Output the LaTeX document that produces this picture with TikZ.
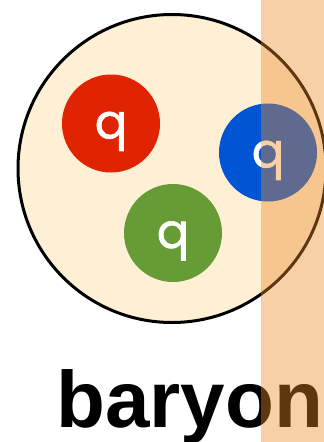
\documentclass[tikz,border=0pt]{standalone}
\usepackage{fontspec}
\setmainfont{Liberation Sans}
\newfontfamily\quarkfont[FakeBold=1.2]{Poppins}
\usetikzlibrary{positioning}
\definecolor{hadroncream}{RGB}{254,239,213}
\definecolor{quarkred}{RGB}{224,35,0}
\definecolor{quarkblue}{RGB}{0,85,212}
\definecolor{quarkgreen}{RGB}{102,155,54}
\definecolor{bandorange}{RGB}{238,138,38}

\begin{document}
\begin{tikzpicture}[
  x=1pt, y=-1pt,
  hadron/.style={draw, circle, minimum size=308pt, inner sep=0pt,
                 line width=3pt, fill=hadroncream},
  quark/.style={circle, minimum size=98pt, inner sep=0pt,
                text=white, text height=30pt, text depth=0pt,
                font=\quarkfont\fontsize{48}{48}\selectfont},
  title/.style={anchor=base west, inner sep=0pt,
                font=\bfseries\fontsize{80}{80}\selectfont},
]
\useasboundingbox (0,0) rectangle (324,442);
\node[hadron]                 (B)  at (172,168.5) {};
\node[quark, fill=quarkred]   (qR) at (111,123.5) {q};
\node[quark, fill=quarkblue]  (qB) at (268,152.5) {q};
\node[quark, fill=quarkgreen] (qG) at (173,233)   {q};
\node[title]                  (T)  at (56,427)    {baryon};
% shaded band on the right
\fill[bandorange, opacity=0.4] (261,0) rectangle (324,442);
\end{tikzpicture}
\end{document}
